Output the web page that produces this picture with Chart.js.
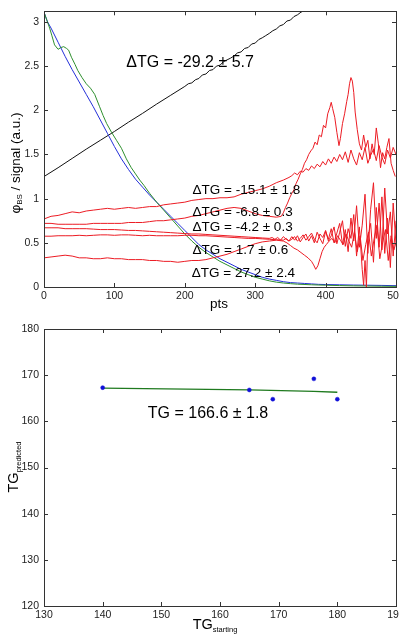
<!DOCTYPE html>
<html>
<head>
<meta charset="utf-8">
<script src="https://cdn.jsdelivr.net/npm/chart.js@4.4.1/dist/chart.umd.min.js"></script>
<style>
    html, body { margin: 0; padding: 0; background: #fff; width: 399px; height: 635px; overflow: hidden; }
    #wrapTop { position: absolute; left: 0; top: 0; width: 420px; height: 316px; }
    #wrapBot { position: absolute; left: 0; top: 316px; width: 420px; height: 319px; }
</style>
</head>
<body>
<div id="wrapTop"><canvas id="topChart"></canvas></div>
<div id="wrapBot"><canvas id="botChart"></canvas></div>
<script>
// ---- panel 1: phi_BS / signal vs pts ----
const xTicksTop = [0, 100, 200, 300, 400, 500];
const yTicksTop = [0, 0.5, 1, 1.5, 2, 2.5, 3];

// shared head of the red curves (0..300 step 10)
const ptsHead = [0, 10, 20, 30, 40, 50, 60, 70, 80, 90, 100, 110, 120, 130, 140, 150,
    160, 170, 180, 190, 200, 210, 220, 230, 240, 250, 260, 270, 280, 290, 300];

const redAHead = [0.77, 0.80, 0.81, 0.83, 0.85, 0.84, 0.86, 0.87, 0.88, 0.89, 0.88, 0.89, 0.90, 0.89, 0.90, 0.91,
    0.91, 0.93, 0.94, 0.95, 0.96, 0.98, 0.99, 1.00, 1.00, 1.01, 1.01, 1.02, 1.05, 1.07, 1.09];
const redATailX = [310, 320, 330, 340, 348, 352, 356, 360, 364, 368, 372, 376, 380, 384, 388, 392, 396, 400, 404, 408,
    412, 416, 420, 424, 428, 432, 436, 440, 444, 448, 452, 456, 460, 464, 468, 472, 476, 480, 484, 488, 492, 496, 500];
const redATail = [1.11, 1.14, 1.18, 1.21, 1.24, 1.26, 1.29, 1.27, 1.31, 1.30, 1.34, 1.32, 1.37, 1.34, 1.39, 1.36, 1.42, 1.38, 1.45, 1.40,
    1.47, 1.42, 1.50, 1.44, 1.53, 1.41, 1.55, 1.45, 1.38, 1.52, 1.44, 1.58, 1.40, 1.49, 1.56, 1.43, 1.60, 1.47, 1.39, 1.55, 1.46, 1.58, 1.50];

const redBHead = [0.72, 0.72, 0.71, 0.71, 0.71, 0.71, 0.71, 0.72, 0.72, 0.72, 0.72, 0.72, 0.73, 0.73, 0.73, 0.74,
    0.75, 0.75, 0.76, 0.77, 0.78, 0.80, 0.81, 0.83, 0.85, 0.87, 0.89, 0.90, 0.89, 0.86, 0.83];
const redBTailX = [310, 320, 330, 337, 340, 343, 346, 349, 352, 355, 358, 361, 364, 367, 370, 373, 376, 379, 382, 385,
    388, 391, 394, 397, 400, 403, 406, 408, 410, 413, 416, 419, 421, 424, 427, 430, 432, 434, 436, 438,
    440, 442, 445, 448, 451, 454, 457, 460, 463, 466, 469, 472, 475, 478, 481, 484, 487, 490, 493, 496, 499];
const redBTail = [0.81, 0.80, 0.79, 0.80, 0.84, 0.90, 0.95, 1.01, 1.06, 1.10, 1.17, 1.22, 1.28, 1.33, 1.40, 1.44, 1.50, 1.54, 1.57, 1.64,
    1.61, 1.72, 1.70, 1.83, 1.80, 1.96, 2.03, 2.09, 2.02, 1.92, 1.75, 1.60, 1.68, 1.85, 1.96, 2.10, 2.18, 2.30, 2.37, 2.33,
    2.20, 1.98, 1.78, 1.62, 1.55, 1.72, 1.58, 1.66, 1.45, 1.62, 1.50, 1.80, 1.62, 1.35, 1.52, 1.45, 1.58, 1.68, 1.40, 1.32, 1.25];

const redCHead = [0.67, 0.67, 0.67, 0.66, 0.66, 0.66, 0.66, 0.655, 0.65, 0.65, 0.65, 0.645, 0.64, 0.64, 0.635, 0.63,
    0.625, 0.62, 0.615, 0.61, 0.605, 0.60, 0.60, 0.595, 0.59, 0.585, 0.58, 0.575, 0.57, 0.565, 0.56];
const redCTailX = [310, 320, 324, 328, 332, 336, 340, 344, 348, 352, 356, 360, 364, 368, 372, 376, 380, 384, 388, 392,
    396, 400, 404, 408, 412, 416, 420, 424, 428, 432, 436, 440, 444, 448, 452, 456, 460, 464, 468, 472, 476, 480, 484, 488, 492, 496, 500];
const redCTail = [0.555, 0.55, 0.56, 0.54, 0.56, 0.53, 0.57, 0.54, 0.52, 0.57, 0.53, 0.58, 0.51, 0.56, 0.60, 0.52, 0.58, 0.50, 0.62, 0.55,
    0.49, 0.63, 0.54, 0.66, 0.50, 0.61, 0.72, 0.48, 0.65, 0.40, 0.78, 0.52, 0.92, 0.45, 0.70, 1.05, 0.38, 0.88, 1.18, 0.55, 0.95, 0.42, 1.12, 0.60, 0.85, 0.35, 0.75];

const redDHead = [0.575, 0.575, 0.58, 0.58, 0.58, 0.585, 0.58, 0.585, 0.59, 0.59, 0.585, 0.59, 0.59, 0.585, 0.58, 0.585,
    0.58, 0.58, 0.58, 0.58, 0.585, 0.585, 0.58, 0.58, 0.575, 0.57, 0.565, 0.56, 0.555, 0.55, 0.55];
const redDTailX = [310, 320, 330, 340, 344, 348, 352, 356, 360, 364, 368, 372, 376, 380, 384, 388, 392, 396, 400, 404,
    408, 412, 416, 420, 424, 428, 432, 436, 440, 444, 448, 452, 454, 456, 458, 460, 464, 468, 472, 476, 480, 484, 488, 492, 496, 500];
const redDTail = [0.545, 0.54, 0.535, 0.53, 0.55, 0.52, 0.54, 0.57, 0.52, 0.55, 0.59, 0.53, 0.57, 0.61, 0.54, 0.50, 0.60, 0.56, 0.64, 0.52,
    0.58, 0.68, 0.49, 0.62, 0.75, 0.46, 0.66, 0.55, 0.82, 0.35, 0.68, 0.20, 0.02, 0.30, 0.0, 0.55, 0.72, 0.28, 0.90, 0.45, 1.02, 0.38, 0.78, 0.22, 0.95, 0.48];

const redEHead = [0.33, 0.34, 0.35, 0.36, 0.35, 0.33, 0.33, 0.32, 0.32, 0.33, 0.32, 0.32, 0.31, 0.31, 0.31, 0.30,
    0.30, 0.29, 0.29, 0.28, 0.29, 0.30, 0.30, 0.31, 0.33, 0.35, 0.37, 0.40, 0.43, 0.46, 0.49];
const redETailX = [310, 320, 330, 340, 345, 350, 355, 360, 365, 370, 375, 380, 383, 386, 389, 392, 395, 398, 401, 405,
    409, 413, 417, 421, 425, 429, 433, 437, 441, 445, 449, 453, 457, 461, 465, 469, 473, 477, 481, 485, 489, 493, 497, 500];
const redETail = [0.51, 0.52, 0.53, 0.52, 0.50, 0.47, 0.44, 0.42, 0.39, 0.36, 0.33, 0.29, 0.25, 0.20, 0.24, 0.32, 0.40, 0.45, 0.48, 0.52,
    0.55, 0.50, 0.58, 0.53, 0.48, 0.60, 0.52, 0.45, 0.62, 0.40, 0.58, 0.30, 0.48, 0.62, 0.35, 0.55, 0.70, 0.32, 0.50, 0.65, 0.30, 0.58, 0.42, 0.50];

const ptsBlue = [0, 5, 10, 20, 30, 40, 50, 60, 70, 80, 90, 100, 110, 120, 130, 140, 150, 160, 170, 180, 190, 200,
    210, 220, 230, 240, 250, 260, 270, 280, 290, 300, 310, 320, 330, 340, 350, 360, 370, 380, 390, 400, 420, 440, 460, 480, 500];
const blueVals = [3.11, 3.0, 2.93, 2.77, 2.61, 2.46, 2.32, 2.18, 2.04, 1.89, 1.74, 1.59, 1.45, 1.33, 1.22, 1.13, 1.04, 0.96, 0.88, 0.80, 0.72, 0.64,
    0.56, 0.48, 0.42, 0.37, 0.32, 0.28, 0.24, 0.20, 0.17, 0.14, 0.11, 0.09, 0.075, 0.06, 0.05, 0.045, 0.04, 0.035, 0.03, 0.028, 0.025, 0.022, 0.02, 0.018, 0.015];

const ptsGreen = [0, 4, 8, 11, 15, 20, 24, 28, 32, 35, 39, 44, 48, 54, 60, 66, 72, 79, 84, 89, 96, 103, 110, 117, 124,
    130, 136, 142, 150, 160, 170, 180, 190, 200, 210, 220, 230, 240, 250, 260, 270, 280, 290, 300, 310, 320, 330, 340,
    350, 360, 380, 400, 420, 440, 460, 480, 500];
const greenVals = [3.11, 3.02, 2.93, 2.85, 2.74, 2.69, 2.71, 2.72, 2.70, 2.68, 2.60, 2.52, 2.45, 2.37, 2.30, 2.25, 2.18, 2.04, 1.94, 1.85, 1.75, 1.66, 1.57, 1.45, 1.35,
    1.28, 1.21, 1.15, 1.06, 0.96, 0.87, 0.78, 0.69, 0.60, 0.52, 0.45, 0.39, 0.34, 0.29, 0.25, 0.21, 0.17, 0.14, 0.11, 0.09, 0.07, 0.055, 0.045,
    0.038, 0.032, 0.025, 0.02, 0.016, 0.013, 0.011, 0.009, 0.007];

const ptsBlack = [0, 20, 40, 60, 80, 100, 120, 140, 160, 180, 200, 205, 210, 215, 220, 225, 230, 235, 240, 245, 250, 255,
    260, 265, 270, 275, 280, 285, 290, 295, 300, 305, 310, 315, 320, 325, 330, 335, 340, 345, 350, 355, 360, 365, 370, 375];
const blackVals = [1.25, 1.35, 1.455, 1.56, 1.66, 1.76, 1.865, 1.965, 2.07, 2.17, 2.27, 2.30, 2.31, 2.345, 2.36, 2.40, 2.41, 2.45, 2.46, 2.50, 2.51, 2.55,
    2.57, 2.59, 2.615, 2.65, 2.66, 2.70, 2.71, 2.75, 2.76, 2.80, 2.82, 2.845, 2.87, 2.90, 2.92, 2.955, 2.97, 3.01, 3.02, 3.06, 3.08, 3.11, 3.13, 3.17];

const notesTopText = ["\u0394TG = -29.2 \u00b1 5.7", "\u0394TG = -15.1 \u00b1 1.8", "\u0394TG = -6.8 \u00b1 0.3",
    "\u0394TG = -4.2 \u00b1 0.3", "\u0394TG = 1.7 \u00b1 0.6", "\u0394TG = 27.2 \u00b1 2.4"];
const notesTopX = [117, 211, 211, 211, 211, 210];
const notesTopY = [2.54, 1.09, 0.85, 0.68, 0.415, 0.15];

// ---- panel 2: TG predicted vs TG starting ----
const xTicksBot = [130, 140, 150, 160, 170, 180, 190];
const yTicksBot = [120, 130, 140, 150, 160, 170, 180];
const tgStarting = [140, 165, 169, 176, 180];
const tgPredicted = [167.3, 166.8, 164.8, 169.2, 164.8];
const fitX = [140, 165, 176, 180];
const fitY = [167.2, 166.8, 166.5, 166.3];
const notesBotText = ["TG = 166.6 \u00b1 1.8"];
const notesBotX = [147.7];
const notesBotY = [161.7];

const FONT = '"Liberation Sans", Arial, Helvetica, sans-serif';
const RED = "#ec1c24";
Chart.defaults.font.family = FONT;
Chart.defaults.color = "#222";

function serie(xs, ys, color, width) {
    return {
        data: xs.map((x, i) => ({ x, y: ys[i] })),
        borderColor: color,
        borderWidth: width || 1,
        pointRadius: 0,
        showLine: true,
        tension: 0
    };
}

// Caja y marcas hacia dentro, estilo Matlab.
const frameTicks = {
    id: "frameTicks",
    afterDatasetsDraw(chart) {
        const { ctx, chartArea: a, scales: { x, y } } = chart;
        ctx.save();
        ctx.strokeStyle = "#333";
        ctx.lineWidth = 1;
        ctx.beginPath();
        x.ticks.forEach((t) => {
            const px = Math.round(x.getPixelForValue(t.value)) + 0.5;
            ctx.moveTo(px, a.bottom); ctx.lineTo(px, a.bottom - 4);
            ctx.moveTo(px, a.top); ctx.lineTo(px, a.top + 4);
        });
        y.ticks.forEach((t) => {
            const py = Math.round(y.getPixelForValue(t.value)) + 0.5;
            ctx.moveTo(a.left, py); ctx.lineTo(a.left + 4, py);
            ctx.moveTo(a.right, py); ctx.lineTo(a.right - 4, py);
        });
        ctx.stroke();
        ctx.strokeRect(Math.round(a.left) + 0.5, Math.round(a.top) + 0.5,
            Math.round(a.right - a.left), Math.round(a.bottom - a.top));
        ctx.restore();
    }
};

function notesPlugin(texts, xs, ys, size) {
    return {
        id: "notes",
        afterDatasetsDraw(chart) {
            const { ctx, scales: { x, y } } = chart;
            ctx.save();
            ctx.fillStyle = "#000";
            ctx.textAlign = "left";
            ctx.textBaseline = "middle";
            texts.forEach((txt, i) => {
                ctx.font = `${size[i]}px ${FONT}`;
                ctx.fillText(txt, x.getPixelForValue(xs[i]), y.getPixelForValue(ys[i]));
            });
            ctx.restore();
        }
    };
}

// Titulos de ejes con subindices.
function drawTitle(ctx, parts, px, py, angle) {
    ctx.save();
    ctx.translate(px, py);
    ctx.rotate(angle);
    ctx.fillStyle = "#000";
    ctx.textAlign = "left";
    ctx.textBaseline = "alphabetic";
    let total = 0;
    parts.forEach((p) => {
        ctx.font = `${p.size}px ${FONT}`;
        p.w = ctx.measureText(p.text).width;
        total += p.w;
    });
    let cx = -total / 2;
    parts.forEach((p) => {
        ctx.font = `${p.size}px ${FONT}`;
        ctx.fillText(p.text, cx, p.shift || 0);
        cx += p.w;
    });
    ctx.restore();
}

function titlesPlugin(list) {
    return {
        id: "titles",
        afterDraw(chart) {
            list.forEach((t) => drawTitle(chart.ctx, t.parts, t.x, t.y, t.angle));
        }
    };
}

function baseScales(xmin, xmax, xticks, ymin, ymax, yticks, xHeight) {
    const grid = { display: false, drawTicks: false, tickLength: 0 };
    return {
        x: {
            type: "linear", min: xmin, max: xmax,
            grid, border: { display: false },
            ticks: { padding: 3, font: { size: 10.5 }, color: "#222", maxRotation: 0, autoSkip: false, callback: (v) => String(v) },
            afterBuildTicks: (s) => { s.ticks = xticks.map((v) => ({ value: v })); },
            afterFit: (s) => { s.height = xHeight; }
        },
        y: {
            type: "linear", min: ymin, max: ymax,
            grid, border: { display: false },
            ticks: { padding: 5, font: { size: 10.5 }, color: "#222", autoSkip: false, callback: (v) => String(v) },
            afterBuildTicks: (s) => { s.ticks = yticks.map((v) => ({ value: v })); },
            afterFit: (s) => { s.width = 44; }
        }
    };
}

new Chart(document.querySelector("#topChart"), {
    type: "scatter",
    data: {
        datasets: [
            serie(ptsHead.concat(redATailX), redAHead.concat(redATail), RED),
            serie(ptsHead.concat(redBTailX), redBHead.concat(redBTail), RED),
            serie(ptsHead.concat(redCTailX), redCHead.concat(redCTail), RED),
            serie(ptsHead.concat(redDTailX), redDHead.concat(redDTail), RED),
            serie(ptsHead.concat(redETailX), redEHead.concat(redETail), RED),
            serie(ptsGreen, greenVals, "#2e8f2e"),
            serie(ptsBlue, blueVals, "#2430d8"),
            serie(ptsBlack, blackVals, "#111")
        ]
    },
    options: {
        animation: false,
        responsive: true,
        maintainAspectRatio: false,
        devicePixelRatio: 1,
        events: [],
        layout: { padding: { top: 11, right: 24, bottom: 0, left: 0 } },
        plugins: { legend: { display: false }, tooltip: { enabled: false } },
        scales: baseScales(0, 500, xTicksTop, 0, 3.12, yTicksTop, 29)
    },
    plugins: [
        frameTicks,
        notesPlugin(notesTopText, notesTopX, notesTopY, [16, 13.5, 13.5, 13.5, 13.5, 13.5]),
        titlesPlugin([
            { parts: [{ text: "pts", size: 13.5 }], x: 219, y: 308, angle: 0 },
            {
                parts: [{ text: "\u03c6", size: 13.5 }, { text: "BS", size: 8, shift: 2 }, { text: " / signal (a.u.)", size: 13.5 }],
                x: 20, y: 163, angle: -Math.PI / 2
            }
        ])
    ]
});

new Chart(document.querySelector("#botChart"), {
    type: "scatter",
    data: {
        datasets: [
            {
                data: tgStarting.map((x, i) => ({ x, y: tgPredicted[i] })),
                pointRadius: 2,
                pointBackgroundColor: "#1010d8",
                pointBorderColor: "#1010d8",
                pointBorderWidth: 0.5,
                showLine: false
            },
            serie(fitX, fitY, "#1f7a1f", 1.3)
        ]
    },
    options: {
        animation: false,
        responsive: true,
        maintainAspectRatio: false,
        devicePixelRatio: 1,
        events: [],
        layout: { padding: { top: 13, right: 24, bottom: 0, left: 0 } },
        plugins: { legend: { display: false }, tooltip: { enabled: false } },
        scales: baseScales(130, 190, xTicksBot, 120, 180, yTicksBot, 29)
    },
    plugins: [
        frameTicks,
        notesPlugin(notesBotText, notesBotX, notesBotY, [16]),
        titlesPlugin([
            { parts: [{ text: "TG", size: 14.5 }, { text: "starting", size: 7.5, shift: 3 }], x: 215, y: 313, angle: 0 },
            { parts: [{ text: "TG", size: 14.5 }, { text: "predicted", size: 7.5, shift: 3 }], x: 17.5, y: 151, angle: -Math.PI / 2 }
        ])
    ]
});
</script>
</body>
</html>
